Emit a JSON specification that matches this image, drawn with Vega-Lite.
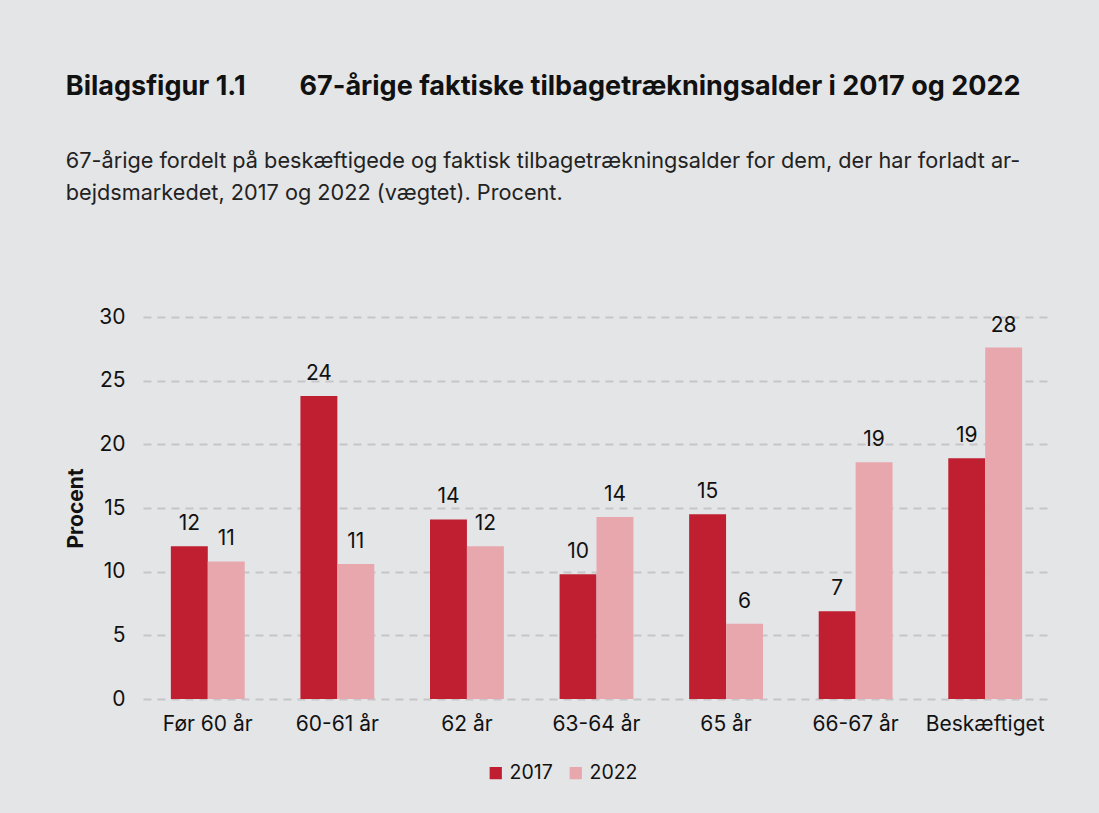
{
  "$schema": "https://vega.github.io/schema/vega-lite/v6.json",
  "width": 907,
  "height": 382,
  "autosize": {"type": "none"},
  "padding": {"left": 143, "top": 317, "right": 49, "bottom": 114},
  "background": "#e4e5e7",
  "title": {
    "text": "Bilagsfigur 1.1\u2003\u200367-årige faktiske tilbagetrækningsalder i 2017 og 2022",
    "subtitle": ["67-årige fordelt på beskæftigede og faktisk tilbagetrækningsalder for dem, der har forladt ar-", "bejdsmarkedet, 2017 og 2022 (vægtet). Procent."],
    "anchor": "start",
    "frame": "bounds",
    "font": "Inter",
    "fontSize": 27,
    "fontWeight": "bold",
    "color": "#111111",
    "subtitleFont": "Inter",
    "subtitleFontSize": 21.7,
    "subtitleColor": "#222222",
    "subtitleLineHeight": 32,
    "subtitlePadding": 50,
    "offset": 100
  },
  "data": {
    "values": [
      {"kategori": "Før 60 år", "år": "2017", "procent": 12.0},
      {"kategori": "Før 60 år", "år": "2022", "procent": 10.8},
      {"kategori": "60-61 år", "år": "2017", "procent": 23.8},
      {"kategori": "60-61 år", "år": "2022", "procent": 10.6},
      {"kategori": "62 år", "år": "2017", "procent": 14.1},
      {"kategori": "62 år", "år": "2022", "procent": 12.0},
      {"kategori": "63-64 år", "år": "2017", "procent": 9.8},
      {"kategori": "63-64 år", "år": "2022", "procent": 14.3},
      {"kategori": "65 år", "år": "2017", "procent": 14.5},
      {"kategori": "65 år", "år": "2022", "procent": 5.9},
      {"kategori": "66-67 år", "år": "2017", "procent": 6.9},
      {"kategori": "66-67 år", "år": "2022", "procent": 18.6},
      {"kategori": "Beskæftiget", "år": "2017", "procent": 18.9},
      {"kategori": "Beskæftiget", "år": "2022", "procent": 27.6}
    ]
  },
  "encoding": {
    "x": {
      "field": "kategori",
      "type": "nominal",
      "sort": ["Før 60 år", "60-61 år", "62 år", "63-64 år", "65 år", "66-67 år", "Beskæftiget"],
      "scale": {"paddingInner": 0.43, "paddingOuter": 0.215},
      "axis": {
        "title": null,
        "labelAngle": 0,
        "labelFont": "Inter",
        "labelFontSize": 21,
        "labelColor": "#111111",
        "labelPadding": 14,
        "ticks": false,
        "domain": false
      }
    },
    "xOffset": {"field": "år", "type": "nominal", "sort": ["2017", "2022"]},
    "y": {
      "field": "procent",
      "type": "quantitative",
      "scale": {"domain": [0, 30]},
      "axis": {
        "title": "Procent",
        "titleFont": "Inter",
        "titleFontSize": 21,
        "titleFontWeight": "bold",
        "titleColor": "#111111",
        "titlePadding": 12,
        "values": [0, 5, 10, 15, 20, 25, 30],
        "labelFont": "Inter",
        "labelFontSize": 21,
        "labelColor": "#111111",
        "labelPadding": 18,
        "ticks": false,
        "domain": false,
        "grid": true,
        "gridColor": "#c6c6c8",
        "gridWidth": 2,
        "gridDash": [8, 6]
      }
    }
  },
  "layer": [
    {
      "mark": {"type": "bar"},
      "encoding": {
        "color": {
          "field": "år",
          "type": "nominal",
          "scale": {"domain": ["2017", "2022"], "range": ["#c01f32", "#e8a7ad"]},
          "legend": {
            "title": null,
            "orient": "none",
            "direction": "horizontal",
            "legendX": 343,
            "legendY": 446,
            "symbolType": "square",
            "symbolSize": 150,
            "symbolStrokeWidth": 0,
            "labelFont": "Inter",
            "labelFontSize": 19.5,
            "labelColor": "#111111",
            "labelOffset": 4,
            "columnPadding": 13
          }
        }
      }
    },
    {
      "mark": {"type": "text", "baseline": "alphabetic", "dy": -16, "font": "Inter", "fontSize": 21, "color": "#111111"},
      "encoding": {
        "text": {"field": "procent", "type": "quantitative", "format": ".0f"}
      }
    }
  ],
  "config": {
    "view": {"stroke": null},
    "axis": {"gridOpacity": 1}
  }
}
